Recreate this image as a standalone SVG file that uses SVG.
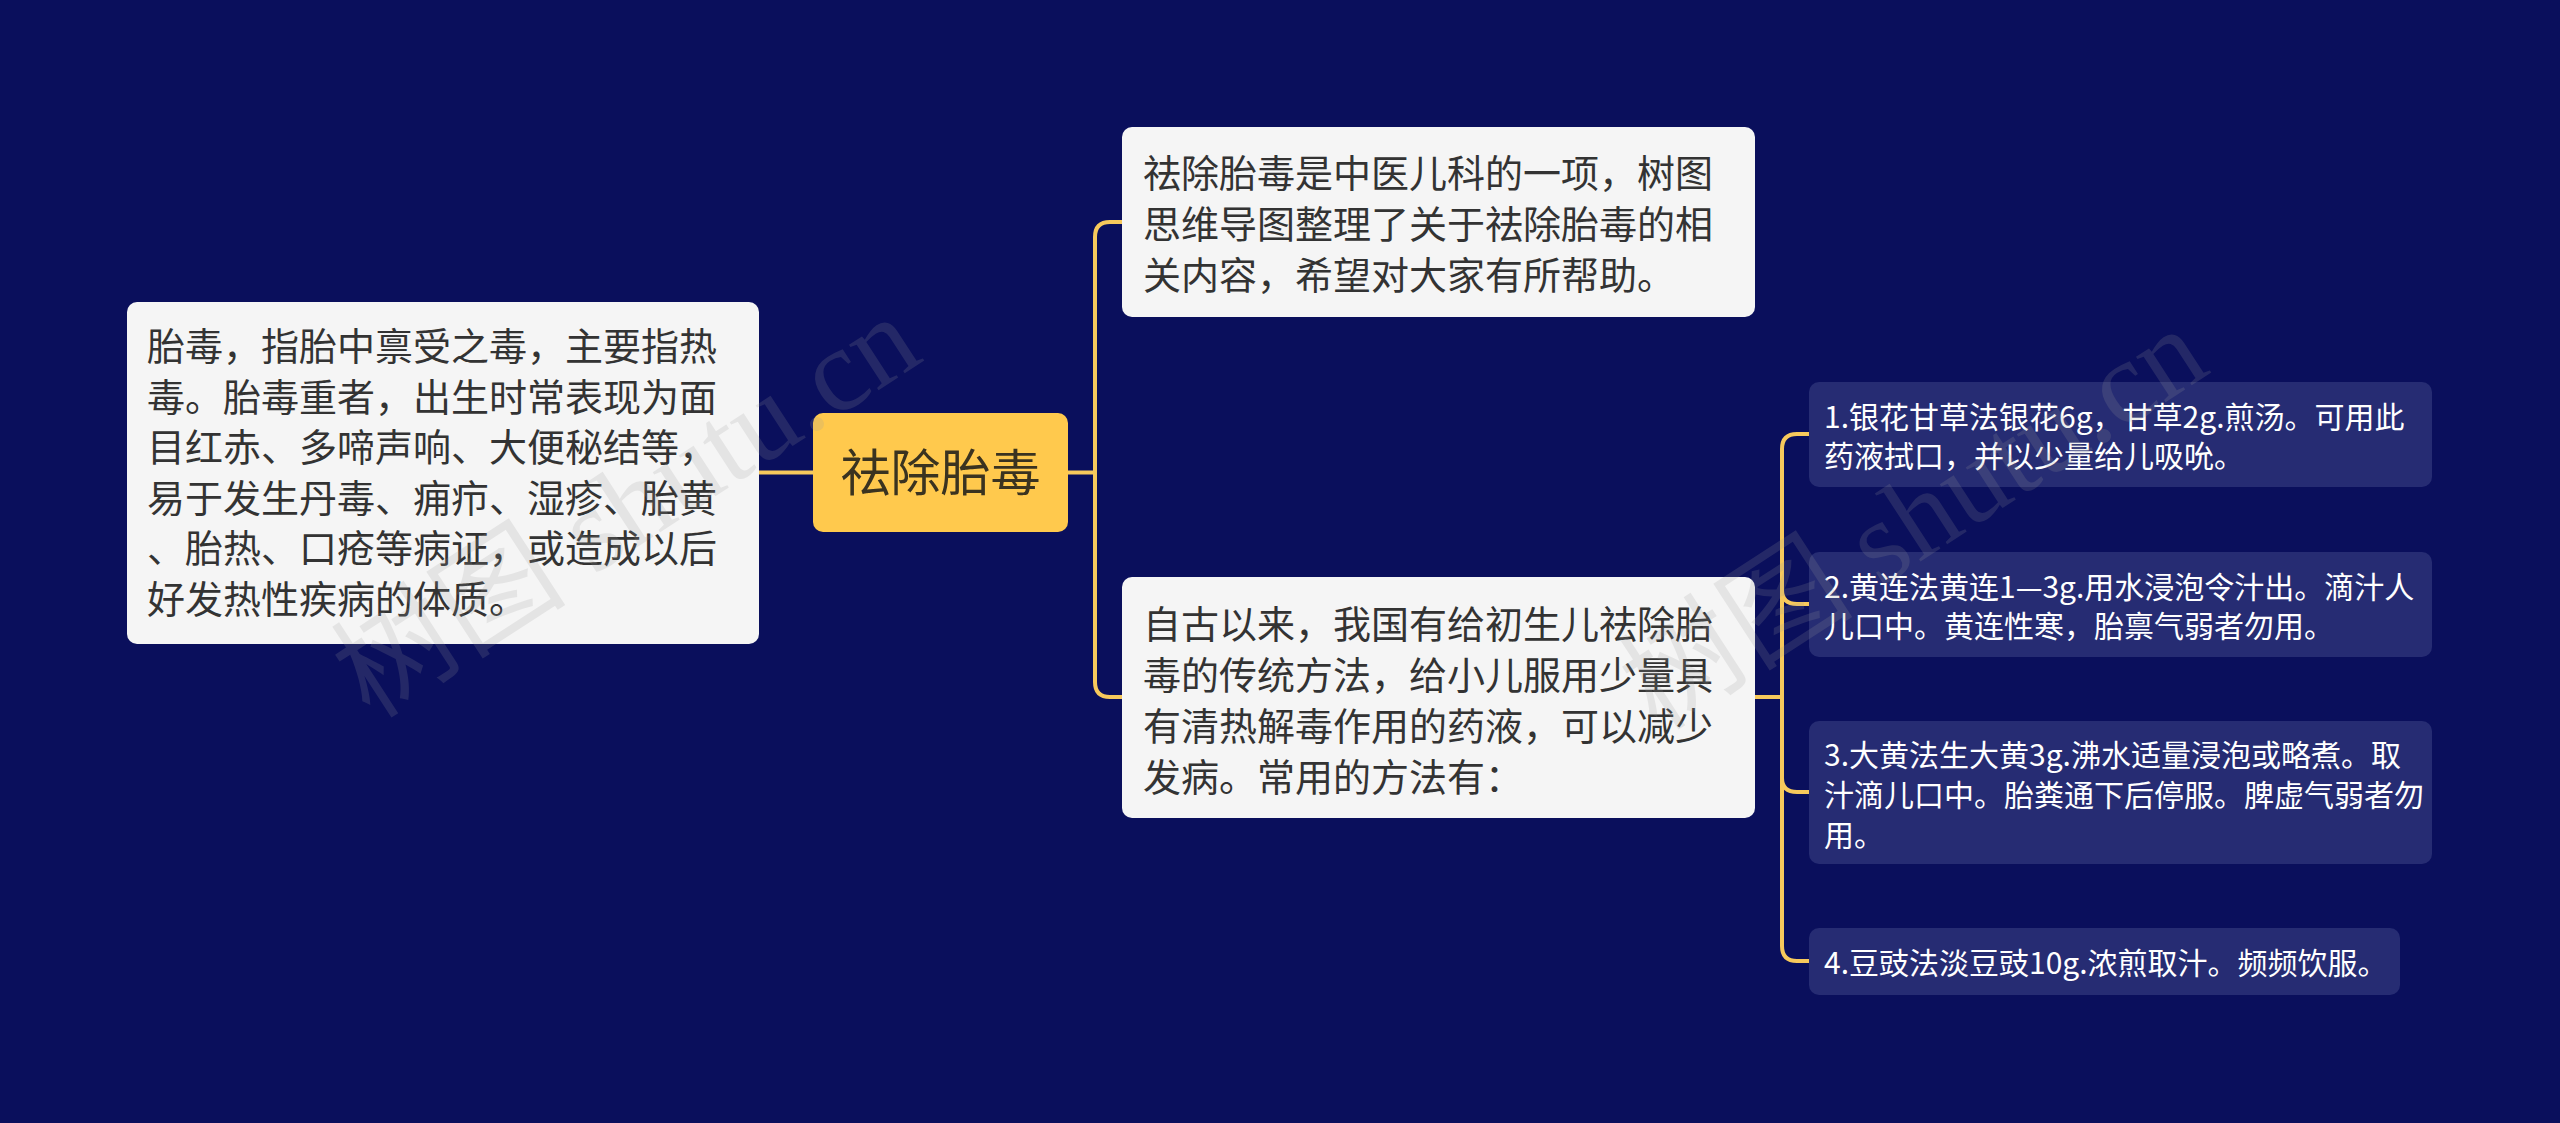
<svg xmlns="http://www.w3.org/2000/svg" width="2560" height="1123" viewBox="0 0 2560 1123">
<style>
.bg{fill:#0A0F5C}
.light{fill:#F5F5F5}
.dark{fill:#262C73}
.center{fill:#FFC94D}
.t{font-family:"Noto Sans CJK SC","Noto Sans",sans-serif}
.tl{font-size:38px;fill:#333333}
.tr{font-size:30px;fill:#FFFFFF}
.tc{font-size:50px;fill:#3A3320;text-anchor:middle}
.conn{fill:none;stroke:#F7C95C;stroke-width:4;stroke-linecap:round}
.wm{font-family:"Liberation Serif","Noto Sans CJK SC",serif;font-size:118px;fill:#9a9a9a;opacity:0.18}
</style>
<rect class="bg" x="0" y="0" width="2560" height="1123"/>
<g id="connectors">
<path class="conn" d="M759 472.5 H813"/>
<path class="conn" d="M1068 472.5 H1095"/>
<path class="conn" d="M1122 222 H1110 Q1095 222 1095 237 V682 Q1095 697 1110 697 H1122"/>
<path class="conn" d="M1755 697 H1782"/>
<path class="conn" d="M1809 434 H1797 Q1782 434 1782 449 V946 Q1782 961 1797 961 H1809"/>
<path class="conn" d="M1782 590 Q1782 604 1797 604 H1809"/>
<path class="conn" d="M1782 778 Q1782 792 1797 792 H1809"/>
</g>
<g id="node-left">
<rect class="light" x="127" y="302" width="632" height="342" rx="10"/>
<text class="t tl" x="147" y="360">胎毒，指胎中禀受之毒，主要指热</text>
<text class="t tl" x="147" y="410.6">毒。胎毒重者，出生时常表现为面</text>
<text class="t tl" x="147" y="461.2">目红赤、多啼声响、大便秘结等，</text>
<text class="t tl" x="147" y="511.8">易于发生丹毒、痈疖、湿疹、胎黄</text>
<text class="t tl" x="147" y="562.4">、胎热、口疮等病证，或造成以后</text>
<text class="t tl" x="147" y="613">好发热性疾病的体质。</text>
</g>
<g id="node-center">
<rect class="center" x="813" y="413" width="255" height="119" rx="10"/>
<text class="t tc" x="940.5" y="491">祛除胎毒</text>
</g>
<g id="node-intro">
<rect class="light" x="1122" y="127" width="633" height="190" rx="10"/>
<text class="t tl" x="1143" y="187">祛除胎毒是中医儿科的一项，树图</text>
<text class="t tl" x="1143" y="238">思维导图整理了关于祛除胎毒的相</text>
<text class="t tl" x="1143" y="289">关内容，希望对大家有所帮助。</text>
</g>
<g id="node-methods">
<rect class="light" x="1122" y="577" width="633" height="241" rx="10"/>
<text class="t tl" x="1143" y="638">自古以来，我国有给初生儿祛除胎</text>
<text class="t tl" x="1143" y="689">毒的传统方法，给小儿服用少量具</text>
<text class="t tl" x="1143" y="740">有清热解毒作用的药液，可以减少</text>
<text class="t tl" x="1143" y="791">发病。常用的方法有：</text>
</g>
<g id="node-m1">
<rect class="dark" x="1809" y="382" width="623" height="105" rx="10"/>
<text class="t tr" x="1824" y="428">1.银花甘草法银花6g，甘草2g.煎汤。可用此</text>
<text class="t tr" x="1824" y="467">药液拭口，并以少量给儿吸吮。</text>
</g>
<g id="node-m2">
<rect class="dark" x="1809" y="552" width="623" height="105" rx="10"/>
<text class="t tr" x="1824" y="598">2.黄连法黄连1—3g.用水浸泡令汁出。滴汁人</text>
<text class="t tr" x="1824" y="637">儿口中。黄连性寒，胎禀气弱者勿用。</text>
</g>
<g id="node-m3">
<rect class="dark" x="1809" y="721" width="623" height="143" rx="10"/>
<text class="t tr" x="1824" y="766">3.大黄法生大黄3g.沸水适量浸泡或略煮。取</text>
<text class="t tr" x="1824" y="806">汁滴儿口中。胎粪通下后停服。脾虚气弱者勿</text>
<text class="t tr" x="1824" y="846">用。</text>
</g>
<g id="node-m4">
<rect class="dark" x="1809" y="928" width="591" height="67" rx="10"/>
<text class="t tr" x="1824" y="974">4.豆豉法淡豆豉10g.浓煎取汁。频频饮服。</text>
</g>
<g id="watermarks">
<text class="wm" text-anchor="middle" transform="translate(648 540) rotate(-33)">树图 shutu.cn</text>
<text class="wm" text-anchor="middle" transform="translate(1935 552) rotate(-33)">树图 shutu.cn</text>
</g>
</svg>
